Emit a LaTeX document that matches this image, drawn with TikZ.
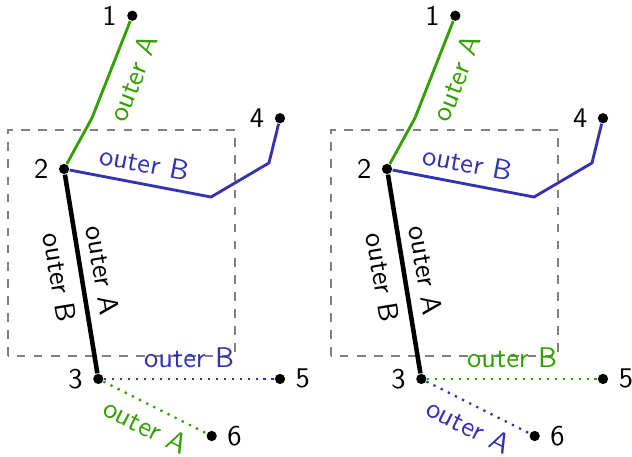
\documentclass[tikz,border=0pt]{standalone}
\usepackage{tikz}
\usetikzlibrary{positioning}
\definecolor{grn}{RGB}{51,160,0}
\definecolor{blu}{RGB}{51,51,178}

\begin{document}
\begin{tikzpicture}[font=\sffamily,
  dot/.style={circle,fill,inner sep=0pt,minimum size=3.6pt},
  arc/.style={line width=1pt},
  dotarc/.style={line width=0.8pt,dotted},
  box/.style={dashed,gray,thin}]
\useasboundingbox (0,0) rectangle (7.799,5.639);
% left copy
\draw[box] (0.099,1.246) rectangle (2.900,4.035);
\node[dot,label=left:1] (l1) at (1.633,5.445) {};
\node[dot,label=left:2] (l2) at (0.790,3.554) {};
\node[dot,label=left:3] (l3) at (1.213,0.963) {};
\node[dot,label=left:4] (l4) at (3.455,4.180) {};
\node[dot,label=right:5] (l5) at (3.455,0.963) {};
\node[dot,label=right:6] (l6) at (2.612,0.259) {};
\coordinate (la) at (1.135,4.183);
\coordinate (lb) at (2.604,3.208);
\coordinate (lc) at (3.319,3.628);
\draw[arc,grn] (l1) -- node[sloped,below=1pt] {outer A} (la) -- (l2);
\draw[arc,blu] (l2) -- node[sloped,above] {outer B} (lb) -- (lc) -- (l4);
\draw[line width=1.6pt] (l2) -- node[sloped,above] {outer A} node[sloped,below] {outer B} (l3);
\draw[dotarc,blu] (l3) -- node[above] {outer B} (l5);
\draw[dotarc,grn] (l3) -- node[sloped,below] {outer A} (l6);
% right copy, colours of the dotted arcs swapped
\begin{scope}[xshift=3.986cm]
\draw[box] (0.099,1.246) rectangle (2.900,4.035);
\node[dot,label=left:1] (r1) at (1.633,5.445) {};
\node[dot,label=left:2] (r2) at (0.790,3.554) {};
\node[dot,label=left:3] (r3) at (1.213,0.963) {};
\node[dot,label=left:4] (r4) at (3.455,4.180) {};
\node[dot,label=right:5] (r5) at (3.455,0.963) {};
\node[dot,label=right:6] (r6) at (2.612,0.259) {};
\coordinate (ra) at (1.135,4.183);
\coordinate (rb) at (2.604,3.208);
\coordinate (rc) at (3.319,3.628);
\draw[arc,grn] (r1) -- node[sloped,below=1pt] {outer A} (ra) -- (r2);
\draw[arc,blu] (r2) -- node[sloped,above] {outer B} (rb) -- (rc) -- (r4);
\draw[line width=1.6pt] (r2) -- node[sloped,above] {outer A} node[sloped,below] {outer B} (r3);
\draw[dotarc,grn] (r3) -- node[above] {outer B} (r5);
\draw[dotarc,blu] (r3) -- node[sloped,below] {outer A} (r6);
\end{scope}
\end{tikzpicture}
\end{document}
